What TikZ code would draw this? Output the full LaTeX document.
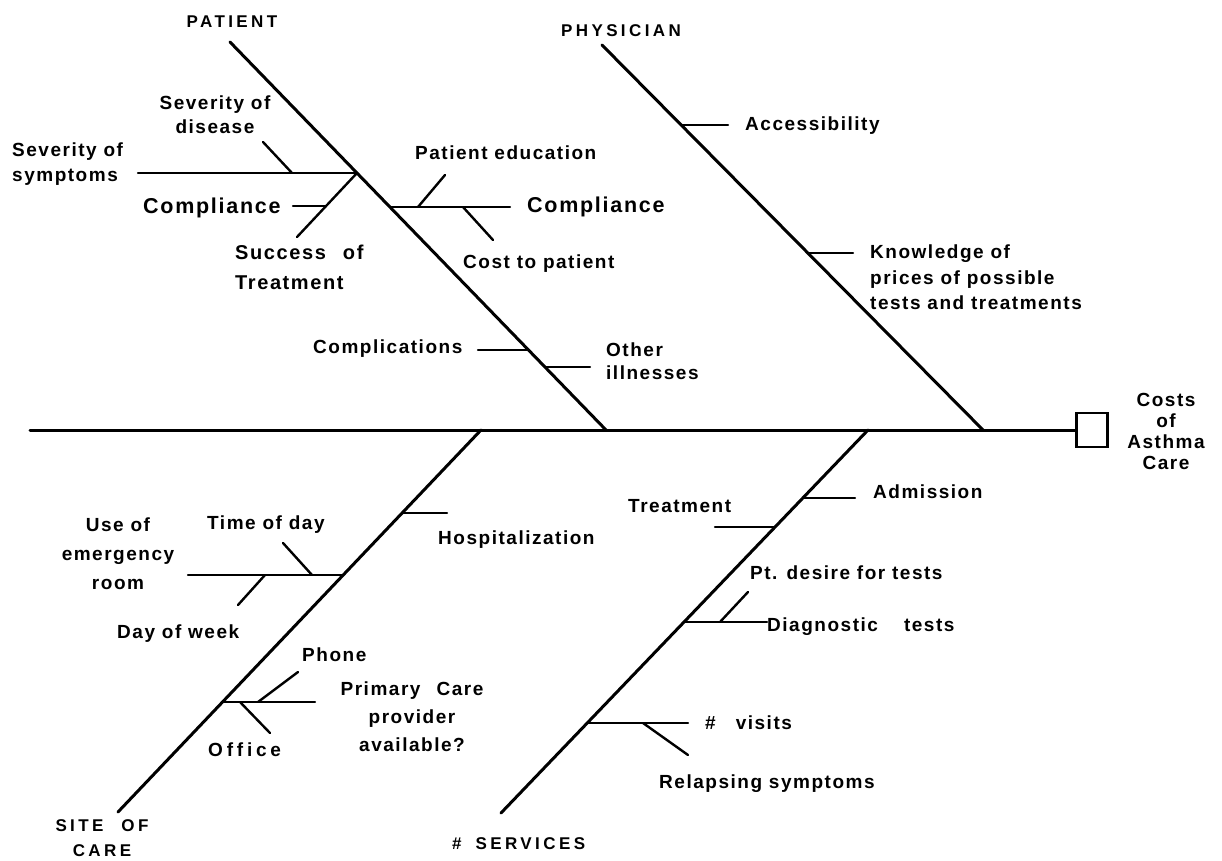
\documentclass[tikz,border=0pt]{standalone}
\usepackage{fontspec}
\newfontfamily\labf{Liberation Sans Bold}[LetterSpace=8]
\newfontfamily\capf{Liberation Sans Bold}[LetterSpace=20]
\newcommand\fsz[2]{\fontsize{#1}{#2}\selectfont}
\begin{document}
\begin{tikzpicture}[x=1pt,y=-1pt,
  lbl/.style={inner sep=0pt, font=\labf\fsz{19}{25}},
  capl/.style={inner sep=0pt, font=\capf\fsz{17}{25}},
  bone/.style={line width=3pt, line cap=round},
  twig/.style={line width=2.4pt, line cap=round},
]
\useasboundingbox (0,0) rectangle (1222,861);

% ---------- labels ----------
\node[capl, anchor=north] (patient) at (232,16) {PATIENT};
\node[capl, anchor=north] (physician) at (621,24) {PHYSICIAN};
\node[lbl, anchor=north, align=center, font=\labf\fsz{19}{24}] (sevdis) at (215,96) {Severity of\\disease};
\node[lbl, anchor=north west, align=left] (sevsym) at (12,143) {Severity of\\symptoms};
\node[lbl, anchor=north west, font=\labf\fsz{21.5}{25}] (compL) at (143,198) {Compliance};
\node[lbl, anchor=north west, align=left, font=\labf\fsz{20}{30}] (success) at (235,245) {Success\hspace{17pt}of\\Treatment};
\node[lbl, anchor=north west] (pated) at (415,146) {Patient education};
\node[lbl, anchor=north west, font=\labf\fsz{21.5}{25}] (compR) at (527,197) {Compliance};
\node[lbl, anchor=north west] (cost) at (463,255) {Cost to patient};
\node[lbl, anchor=north west] (compl) at (313,340) {Complications};
\node[lbl, anchor=north west, align=left, font=\labf\fsz{19}{23}] (other) at (606,343) {Other\\illnesses};
\node[lbl, anchor=north west] (access) at (745,117) {Accessibility};
\node[lbl, anchor=north west, align=left, font=\labf\fsz{19}{25.5}] (know) at (870,245) {Knowledge of\\prices of possible\\tests and treatments};
\node[lbl, anchor=north, align=center, font=\labf\fsz{19}{21}] (costs) at (1166,393) {Costs\\of\\Asthma\\Care};
\node[lbl, anchor=north west] (hosp) at (438,531) {Hospitalization};
\node[lbl, anchor=north, align=center, font=\labf\fsz{19}{29}] (use) at (118,518) {Use of\\emergency\\room};
\node[lbl, anchor=north west] (time) at (207,516) {Time of day};
\node[lbl, anchor=north west] (dayw) at (117,625) {Day of week};
\node[lbl, anchor=north west] (phone) at (302,648) {Phone};
\node[lbl, anchor=north, align=center, font=\labf\fsz{19}{28}] (pcp) at (412,682) {Primary\hspace{16pt}Care\\provider\\available?};
\node[lbl, anchor=north west, font=\capf\fsz{19}{25}] (office) at (208,743) {Office};
\node[capl, anchor=north, align=center] (site) at (102,819) {SITE\hspace{18pt}OF\\CARE};
\node[lbl, anchor=north west] (adm) at (873,485) {Admission};
\node[lbl, anchor=north west] (treat) at (628,499) {Treatment};
\node[lbl, anchor=north west] (ptdes) at (750,566) {Pt. desire for tests};
\node[lbl, anchor=north west] (diag) at (767,618) {Diagnostic\hspace{26pt}tests};
\node[lbl, anchor=north west] (visits) at (705,716) {\#\hspace{20pt}visits};
\node[lbl, anchor=north west] (relapse) at (659,775) {Relapsing symptoms};
\node[capl, anchor=north west] (services) at (452,837) {\#\hspace{14pt}SERVICES};

% ---------- spine and effect box ----------
\coordinate (spL) at (30,430);
\node[draw, line width=2.2pt, minimum width=31pt, minimum height=34pt, inner sep=0pt] (eff) at (1092,430) {};
\draw[bone] (spL) -- (eff.west);

% ---------- main bones ----------
\coordinate (P0) at (230,42);  \coordinate (P1) at (606,430);
\coordinate (Q0) at (602,45);  \coordinate (Q1) at (983,430);
\coordinate (S0) at (481,430); \coordinate (S1) at (118,812);
\coordinate (R0) at (868,430); \coordinate (R1) at (501,813);
\draw[bone] (P0) -- (P1);
\draw[bone] (Q0) -- (Q1);
\draw[bone] (S0) -- (S1);
\draw[bone] (R0) -- (R1);

% ---------- patient branches ----------
\coordinate (pj1) at (357,173); \coordinate (pj1e) at (138,173);
\coordinate (sdA) at (292,173); \coordinate (sdB) at (263,142);
\coordinate (stB) at (297,237);
\coordinate (clA) at (325,206); \coordinate (clB) at (293,206);
\draw[twig] (pj1) -- (pj1e);
\draw[twig] (sdA) -- (sdB);
\draw[twig] (pj1) -- (stB);
\draw[twig] (clA) -- (clB);

\coordinate (pj2) at (390,207); \coordinate (pj2e) at (510,207);
\coordinate (peA) at (418,207); \coordinate (peB) at (445,175);
\coordinate (ctA) at (463,207); \coordinate (ctB) at (493,240);
\draw[twig] (pj2) -- (pj2e);
\draw[twig] (peA) -- (peB);
\draw[twig] (ctA) -- (ctB);

\coordinate (pj3) at (528,350); \coordinate (pj3e) at (478,350);
\coordinate (pj4) at (545,367); \coordinate (pj4e) at (590,367);
\draw[twig] (pj3) -- (pj3e);
\draw[twig] (pj4) -- (pj4e);

% ---------- physician branches ----------
\coordinate (qj1) at (681,125); \coordinate (qj1e) at (728,125);
\coordinate (qj2) at (808,253); \coordinate (qj2e) at (853,253);
\draw[twig] (qj1) -- (qj1e);
\draw[twig] (qj2) -- (qj2e);

% ---------- site of care branches ----------
\coordinate (sj1) at (402,513); \coordinate (sj1e) at (447,513);
\draw[twig] (sj1) -- (sj1e);
\coordinate (sj2) at (343,575); \coordinate (sj2e) at (188,575);
\coordinate (tdA) at (312,575); \coordinate (tdB) at (283,543);
\coordinate (dwA) at (265,575); \coordinate (dwB) at (238,605);
\draw[twig] (sj2) -- (sj2e);
\draw[twig] (tdA) -- (tdB);
\draw[twig] (dwA) -- (dwB);
\coordinate (sj3) at (222,702); \coordinate (sj3e) at (315,702);
\coordinate (phA) at (258,702); \coordinate (phB) at (298,672);
\coordinate (ofA) at (240,702); \coordinate (ofB) at (270,733);
\draw[twig] (sj3) -- (sj3e);
\draw[twig] (phA) -- (phB);
\draw[twig] (ofA) -- (ofB);

% ---------- services branches ----------
\coordinate (rj1) at (803,498); \coordinate (rj1e) at (855,498);
\coordinate (rj2) at (775,527); \coordinate (rj2e) at (715,527);
\draw[twig] (rj1) -- (rj1e);
\draw[twig] (rj2) -- (rj2e);
\coordinate (rj3) at (684,622); \coordinate (rj3e) at (767,622);
\coordinate (pdA) at (720,622); \coordinate (pdB) at (748,592);
\draw[twig] (rj3) -- (rj3e);
\draw[twig] (pdA) -- (pdB);
\coordinate (rj4) at (587,723); \coordinate (rj4e) at (688,723);
\coordinate (rsA) at (643,723); \coordinate (rsB) at (688,755);
\draw[twig] (rj4) -- (rj4e);
\draw[twig] (rsA) -- (rsB);
\end{tikzpicture}
\end{document}
